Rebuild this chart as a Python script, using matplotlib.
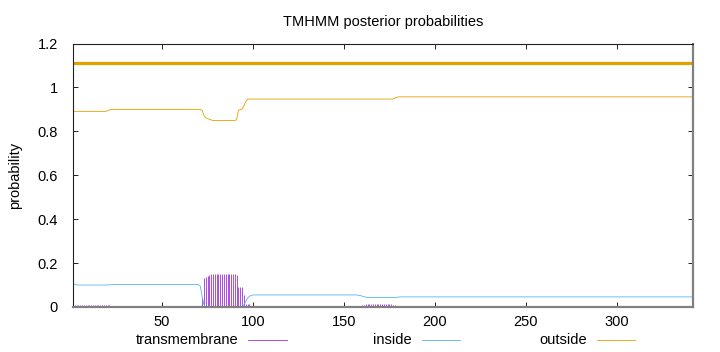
import matplotlib
matplotlib.use("Agg")
import matplotlib.pyplot as plt
from matplotlib.lines import Line2D
from matplotlib.ticker import FormatStrFormatter

plt.rcParams["font.family"] = ["Liberation Sans", "DejaVu Sans"]
plt.rcParams["font.size"] = 10.5

SEQ_LEN = 342

# outside probability: breakpoints of the polyline (residue, prob)
outside_x = [1, 19, 21, 22, 71, 72, 73, 74, 76, 78, 90, 91, 92, 94, 95, 96, 97, 177, 178, 180, 342]
outside_y = [0.891, 0.891, 0.897, 0.900, 0.900, 0.895, 0.872, 0.861, 0.855, 0.849, 0.849, 0.853, 0.896, 0.902, 0.916, 0.935, 0.947, 0.947, 0.952, 0.957, 0.957]

# inside probability: breakpoints of the polyline
inside_x = [1, 3, 20, 22, 70, 71, 72, 73, 74, 94, 95, 96, 97, 98, 100, 157, 159, 161, 163, 178, 181, 342]
inside_y = [0.107, 0.100, 0.100, 0.102, 0.102, 0.095, 0.050, 0.010, 0.001, 0.001, 0.010, 0.025, 0.040, 0.049, 0.055, 0.055, 0.052, 0.047, 0.043, 0.043, 0.046, 0.046]

# transmembrane probability per residue (residues not listed are ~0)
tm_res = [1, 2, 3, 4, 5, 6, 7, 8, 9, 10, 11, 12, 13, 14, 15, 16, 17, 18, 19, 20, 21,
          72, 73, 74, 75, 76, 77, 78, 79, 80, 81, 82, 83, 84, 85, 86, 87, 88, 89, 90,
          91, 92, 93, 94, 95, 96, 97, 98, 99,
          158, 159, 160, 161, 162, 163, 164, 165, 166, 167, 168, 169, 170, 171, 172,
          173, 174, 175, 176, 177, 178, 179, 180,
          262, 264, 266, 268, 270, 272, 274, 276, 278]
tm_val = [0.008, 0.008, 0.008, 0.008, 0.008, 0.008, 0.008, 0.008, 0.008, 0.008, 0.008,
          0.008, 0.008, 0.008, 0.008, 0.008, 0.008, 0.008, 0.008, 0.008, 0.007,
          0.040, 0.131, 0.138, 0.141, 0.146, 0.149, 0.150, 0.150, 0.150, 0.150, 0.150,
          0.150, 0.150, 0.150, 0.150, 0.150, 0.150, 0.150, 0.149,
          0.148, 0.093, 0.092, 0.090, 0.054, 0.012, 0.012, 0.015, 0.005,
          0.003, 0.005, 0.008, 0.010, 0.013, 0.014, 0.014, 0.014, 0.014, 0.014, 0.014,
          0.014, 0.014, 0.014, 0.014, 0.014, 0.014, 0.012, 0.012, 0.011, 0.008, 0.005, 0.003,
          0.003, 0.003, 0.003, 0.003, 0.003, 0.003, 0.003, 0.003, 0.003]

# predicted topology: whole sequence outside
topo_y = 1.11

C_TM = "#a030e0"
C_IN = "#56b4e9"
C_OUT = "#e69f00"

W, H = 720, 352
fig = plt.figure(figsize=(W / 100, H / 100), dpi=100)
ax = fig.add_axes([73 / W, 1 - 307 / H, (693 - 73) / W, (307 - 43.5) / H])

ax.vlines(tm_res, 0, tm_val, color=C_TM, lw=0.6)
ax.plot(inside_x, inside_y, color=C_IN, lw=0.6)
ax.plot(outside_x, outside_y, color=C_OUT, lw=0.6)
ax.hlines(topo_y, 1, SEQ_LEN, color=C_OUT, lw=2.3)

ax.set_xlim(1, SEQ_LEN)
ax.set_ylim(0, 1.2)
ax.set_xticks([50, 100, 150, 200, 250, 300])
ax.set_yticks([0, 0.2, 0.4, 0.6, 0.8, 1.0, 1.2])
ax.yaxis.set_major_formatter(FormatStrFormatter("%g"))
ax.tick_params(direction="in", length=3.5, width=0.6, top=True, right=True)
ax.tick_params(axis="y", pad=11)
ax.tick_params(axis="x", pad=6)

for side in ("left", "top"):
    ax.spines[side].set_color("#222222")
    ax.spines[side].set_linewidth(0.8)
for side in ("right", "bottom"):
    ax.spines[side].set_color("#808080")
    ax.spines[side].set_linewidth(1.6)

fig.text(383 / W, 1 - 22 / H, "TMHMM posterior probabilities", ha="center", va="center")
fig.text(15 / W, 1 - 175 / H, "probability", ha="center", va="center", rotation=90)

# legend below the axis, gnuplot style (label then sample)
legend = [("transmembrane", C_TM, 238, 248, 287),
          ("inside", C_IN, 412, 422, 460),
          ("outside", C_OUT, 587, 597, 635)]
for label, color, tx, x0, x1 in legend:
    fig.text(tx / W, 1 - 340 / H, label, ha="right", va="center")
    fig.add_artist(Line2D([x0 / W, x1 / W], [1 - 340 / H, 1 - 340 / H],
                          transform=fig.transFigure, color=color, lw=0.6))

fig.savefig("out.png", dpi=100)
